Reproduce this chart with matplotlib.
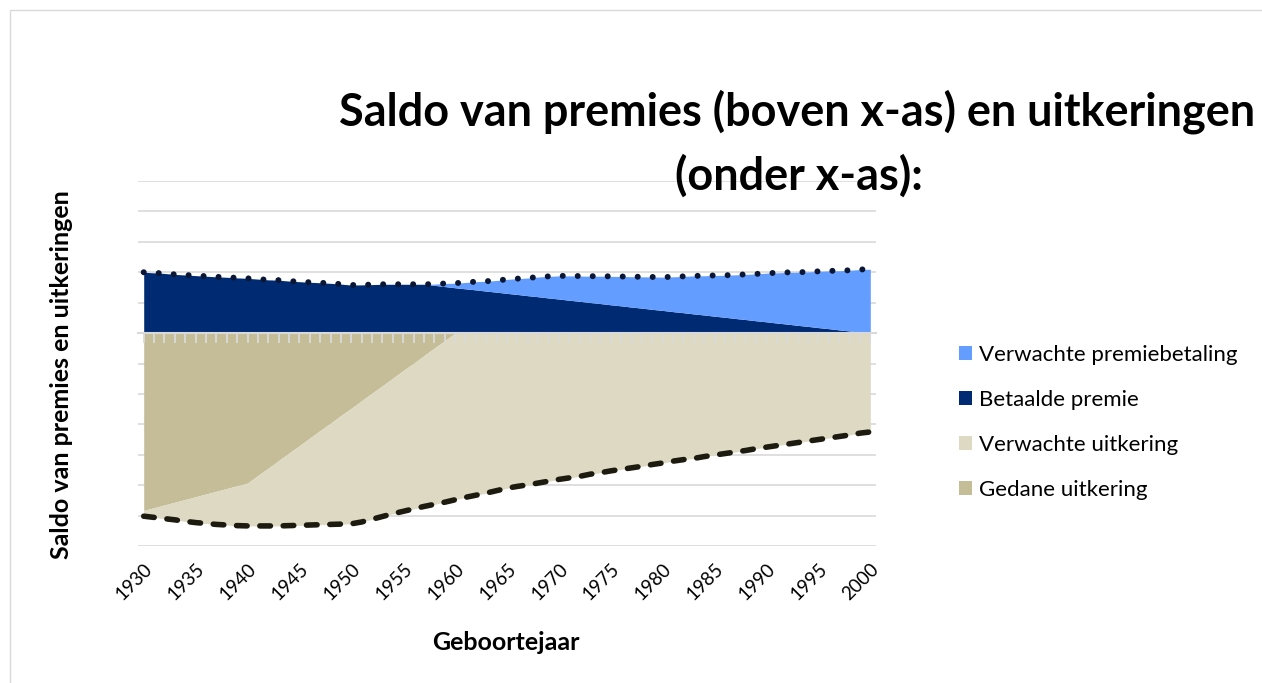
import matplotlib
matplotlib.use("Agg")
import matplotlib.pyplot as plt
from matplotlib.patches import Rectangle

plt.rcParams['font.family'] = ['Lato', 'DejaVu Sans']

jaren = list(range(1930, 2001))

premie_totaal = [
    2.00, 1.98, 1.96, 1.93, 1.91, 1.89, 1.87, 1.85, 1.835, 1.815,
    1.80, 1.775, 1.75, 1.74, 1.71, 1.69, 1.67, 1.655, 1.635, 1.61,
    1.58, 1.585, 1.595, 1.605, 1.605, 1.605, 1.605, 1.605, 1.61, 1.63,
    1.64, 1.665, 1.69, 1.705, 1.73, 1.765, 1.79, 1.81, 1.845, 1.865,
    1.88, 1.88, 1.875, 1.87, 1.87, 1.865, 1.86, 1.855, 1.85, 1.845,
    1.84, 1.85, 1.865, 1.88, 1.885, 1.895, 1.90, 1.915, 1.93, 1.945,
    1.97, 1.98, 1.995, 2.00, 2.01, 2.03, 2.045, 2.05, 2.065, 2.09,
    2.10,
]

betaalde_premie = [
    2.00, 1.98, 1.96, 1.93, 1.91, 1.89, 1.87, 1.85, 1.835, 1.815,
    1.80, 1.775, 1.75, 1.74, 1.71, 1.69, 1.67, 1.655, 1.635, 1.61,
    1.58, 1.585, 1.595, 1.605, 1.605, 1.605, 1.605, 1.605, 1.57, 1.53,
    1.49, 1.455, 1.42, 1.38, 1.345, 1.305, 1.27, 1.23, 1.195, 1.155,
    1.12, 1.08, 1.045, 1.005, 0.97, 0.93, 0.895, 0.855, 0.82, 0.78,
    0.745, 0.705, 0.67, 0.63, 0.595, 0.555, 0.52, 0.48, 0.445, 0.405,
    0.37, 0.33, 0.295, 0.255, 0.22, 0.18, 0.145, 0.105, 0.07, 0.03,
    0.0,
]

gedane_uitkering = [
    -5.83, -5.74, -5.65, -5.56, -5.47, -5.38, -5.29, -5.20, -5.11, -5.02,
    -4.93, -4.68, -4.44, -4.19, -3.94, -3.70, -3.45, -3.20, -2.96, -2.71,
    -2.47, -2.22, -1.97, -1.73, -1.48, -1.23, -0.99, -0.74, -0.49, -0.25,
    0.0, 0.0, 0.0, 0.0, 0.0, 0.0, 0.0, 0.0, 0.0, 0.0,
    0.0, 0.0, 0.0, 0.0, 0.0, 0.0, 0.0, 0.0, 0.0, 0.0,
    0.0, 0.0, 0.0, 0.0, 0.0, 0.0, 0.0, 0.0, 0.0, 0.0,
    0.0, 0.0, 0.0, 0.0, 0.0, 0.0, 0.0, 0.0, 0.0, 0.0,
    0.0,
]

# onderkant uitkeringen (streepjeslijn)
uitkering_totaal = [
    -6.02, -6.06, -6.10, -6.14, -6.19, -6.23, -6.26, -6.29, -6.31, -6.33,
    -6.34, -6.34, -6.34, -6.34, -6.33, -6.32, -6.31, -6.30, -6.29, -6.28,
    -6.27, -6.21, -6.12, -6.03, -5.94, -5.86, -5.78, -5.70, -5.63, -5.56,
    -5.48, -5.40, -5.33, -5.26, -5.18, -5.10, -5.04, -4.99, -4.93, -4.87,
    -4.81, -4.76, -4.71, -4.64, -4.59, -4.53, -4.48, -4.43, -4.38, -4.32,
    -4.27, -4.21, -4.16, -4.12, -4.06, -4.01, -3.96, -3.91, -3.86, -3.80,
    -3.75, -3.70, -3.65, -3.60, -3.55, -3.50, -3.45, -3.40, -3.35, -3.29,
    -3.25,
]

label_jaren = list(range(1930, 2001, 5))

fig = plt.figure(figsize=(12.62, 6.83), dpi=100)
ax = fig.add_axes([138 / 1262, 1 - 546 / 683, 738 / 1262, 365 / 683])

ax.fill_between(jaren, 0, betaalde_premie, color="#002B73", lw=0, zorder=2,
                label="Betaalde premie")
ax.fill_between(jaren, betaalde_premie, premie_totaal, color="#629DFF", lw=0,
                zorder=2, label="Verwachte premiebetaling")
ax.fill_between(jaren, 0, gedane_uitkering, color="#C4BD97", lw=0, zorder=2,
                label="Gedane uitkering")
ax.fill_between(jaren, gedane_uitkering, uitkering_totaal, color="#DDD9C3",
                lw=0, zorder=2, label="Verwachte uitkering")

ax.plot(jaren, premie_totaal, color="#0A1633", lw=4.3,
        linestyle=(0, (0.01, 2.5)), dash_capstyle="round", zorder=5)
ax.plot(jaren, uitkering_totaal, color="#1D1B10", lw=4.0,
        linestyle=(0, (1.9, 2.3)), dash_capstyle="round", zorder=5)

ax.set_xlim(1929.45, 2000.55)
ax.set_ylim(-7, 5)
ax.set_yticks(range(-7, 6))
ax.yaxis.grid(True, color="#D9D9D9", lw=1.2)
ax.tick_params(axis="y", length=0, labelleft=False)
for s in ["left", "right", "top"]:
    ax.spines[s].set_visible(False)

ax.spines["bottom"].set_position(("data", 0))
ax.spines["bottom"].set_color("#D9D9D9")
ax.spines["bottom"].set_linewidth(1.5)
ax.set_xticks(jaren)
ax.tick_params(axis="x", length=7, width=1.3, color="#D9D9D9", direction="out",
               labelbottom=False)
ax.set_axisbelow(True)
ax.xaxis.set_zorder(3)
ax.spines["bottom"].set_zorder(3)

sec = ax.secondary_xaxis("bottom")
sec.set_xticks(label_jaren)
sec.set_xticklabels([str(j) for j in label_jaren], rotation=45, ha="right",
                    va="top", rotation_mode="anchor", fontsize=13.5)
sec.tick_params(axis="x", length=0, pad=10)
sec.spines["bottom"].set_visible(False)

fig.text(797 / 1262, 1 - 126 / 683, "Saldo van premies (boven x-as) en uitkeringen",
         ha="center", va="baseline", fontsize=32.4, fontweight="bold")
fig.text(799 / 1262, 1 - 190 / 683, "(onder x-as):",
         ha="center", va="baseline", fontsize=32.4, fontweight="bold")

fig.text(62 / 1262, 1 - 375 / 683, "Saldo van premies en uitkeringen",
         rotation=90, ha="center", va="center", fontsize=18, fontweight="bold")
fig.text(506 / 1262, 1 - 643 / 683, "Geboortejaar", ha="center", va="center",
         fontsize=18, fontweight="bold")

handles, labels = ax.get_legend_handles_labels()
order = [1, 0, 3, 2]
fig.legend([handles[i] for i in order], [labels[i] for i in order],
           loc="upper left", bbox_to_anchor=(950 / 1262, 1 - 336 / 683),
           frameon=False, fontsize=16, handlelength=0.6, handleheight=0.6,
           handletextpad=0.3, labelspacing=1.12, borderaxespad=0)

fig.patches.append(Rectangle((10 / 1262, -0.01), 1.0, 1 - 10 / 683 + 0.01,
                             transform=fig.transFigure, fill=False,
                             edgecolor="#D9D9D9", lw=1))

fig.savefig("out.png", dpi=100)
